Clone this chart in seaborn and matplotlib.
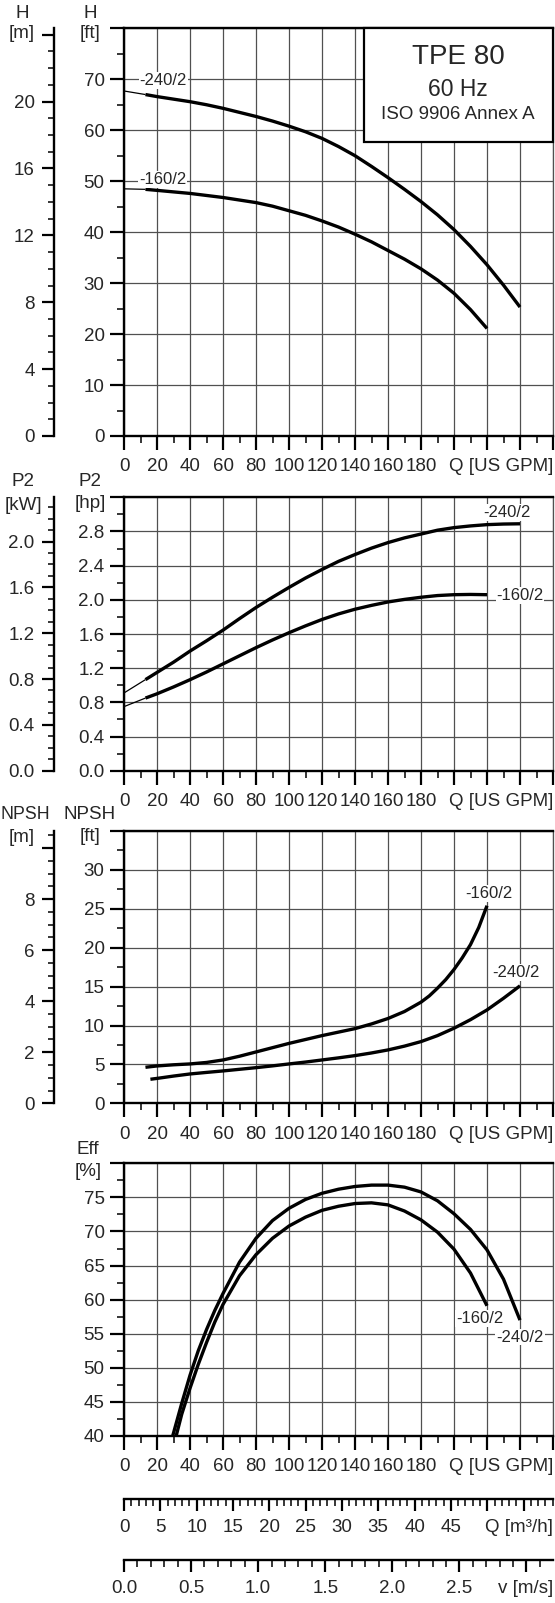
import numpy as np
import matplotlib
matplotlib.use('Agg')
import matplotlib.pyplot as plt
import seaborn as sns
from matplotlib.ticker import MultipleLocator, FixedLocator, FixedFormatter
from matplotlib.patches import Rectangle

# ---------------- data ----------------
# Head H [ft] vs Q [US GPM]; first segment (0 -> first point) drawn thin
q_h_240 = [0, 13, 20, 30, 40, 50, 60, 70, 80, 90, 100, 110, 120, 130, 140, 150, 160,
           170, 180, 190, 200, 210, 220, 230, 240]
h_240 = [67.7, 67.0, 66.6, 66.1, 65.6, 65.0, 64.3, 63.5, 62.7, 61.8, 60.8, 59.7, 58.4,
         56.8, 55.0, 52.9, 50.7, 48.4, 46.0, 43.4, 40.5, 37.2, 33.6, 29.6, 25.3]
q_h_160 = [0, 13, 20, 30, 40, 50, 60, 70, 80, 90, 100, 110, 120, 130, 140, 150, 160,
           170, 180, 190, 200, 210, 220]
h_160 = [48.5, 48.4, 48.2, 47.9, 47.6, 47.2, 46.8, 46.3, 45.8, 45.1, 44.2, 43.3, 42.2,
         41.0, 39.6, 38.1, 36.4, 34.7, 32.8, 30.6, 28.0, 24.8, 21.1]

# Power P2 [hp]
q_p_240 = [0, 13, 20, 30, 40, 50, 60, 70, 80, 90, 100, 110, 120, 130, 140, 150, 160,
           170, 180, 190, 200, 210, 220, 230, 240]
p_240 = [0.91, 1.066, 1.15, 1.27, 1.40, 1.52, 1.645, 1.78, 1.91, 2.03, 2.145, 2.255,
         2.355, 2.45, 2.53, 2.605, 2.67, 2.725, 2.77, 2.815, 2.845, 2.865, 2.88, 2.887, 2.89]
q_p_160 = [0, 13, 20, 30, 40, 50, 60, 70, 80, 90, 100, 110, 120, 130, 140, 150, 160,
           170, 180, 190, 200, 210, 220]
p_160 = [0.75, 0.85, 0.90, 0.98, 1.065, 1.155, 1.25, 1.345, 1.44, 1.53, 1.615, 1.695,
         1.77, 1.835, 1.89, 1.935, 1.975, 2.005, 2.03, 2.05, 2.06, 2.063, 2.06]

# NPSH [ft]
q_n_160 = [13, 20, 30, 40, 50, 60, 70, 80, 90, 100, 110, 120, 130, 140, 150, 160, 170,
           180, 185, 190, 195, 200, 205, 210, 215, 220]
n_160 = [4.63, 4.8, 4.95, 5.06, 5.25, 5.57, 6.05, 6.6, 7.15, 7.7, 8.2, 8.7, 9.15, 9.6,
         10.2, 10.9, 11.8, 13.0, 13.8, 14.8, 15.9, 17.2, 18.7, 20.4, 22.6, 25.4]
q_n_240 = [16, 20, 30, 40, 50, 60, 70, 80, 90, 100, 110, 120, 130, 140, 150, 160, 170,
           180, 190, 200, 210, 220, 230, 240]
n_240 = [3.09, 3.2, 3.5, 3.77, 3.97, 4.16, 4.37, 4.58, 4.81, 5.06, 5.3, 5.57, 5.84, 6.13,
         6.47, 6.86, 7.35, 7.93, 8.7, 9.65, 10.75, 12.0, 13.5, 15.1]

# Efficiency [%]
q_e_240 = [29.5, 35, 40, 45, 50, 55, 60, 70, 80, 90, 100, 110, 120, 130, 140, 150, 160,
           170, 180, 190, 200, 210, 220, 230, 240]
e_240 = [40, 44.8, 48.9, 52.5, 55.6, 58.4, 60.9, 65.5, 69.0, 71.6, 73.4, 74.7, 75.6, 76.2,
         76.6, 76.8, 76.8, 76.5, 75.8, 74.5, 72.6, 70.3, 67.3, 63.0, 57.0]
q_e_160 = [31.6, 35, 40, 45, 50, 55, 60, 70, 80, 90, 100, 110, 120, 130, 140, 150, 160,
           170, 180, 190, 200, 210, 220]
e_160 = [40, 43.2, 47.0, 50.5, 53.7, 56.7, 59.3, 63.5, 66.6, 69.0, 70.8, 72.1, 73.1, 73.7,
         74.1, 74.2, 73.9, 73.0, 71.7, 69.9, 67.4, 63.9, 59.1]

curve_names = ['-240/2', '-160/2']
title_lines = ['TPE 80', '60 Hz', 'ISO 9906 Annex A']

GPM_PER_M3H = 4.40287
GPM_PER_MS = 81.3
FT_TO_M = 0.3048
HP_TO_KW = 0.7457

# ---------------- style ----------------
sns.set_style('ticks')
plt.rcParams['font.family'] = ['Liberation Sans', 'DejaVu Sans']
plt.rcParams['axes.linewidth'] = 1.6
plt.rcParams['lines.solid_capstyle'] = 'butt'
plt.rcParams['lines.solid_joinstyle'] = 'round'

W, H = 555, 1603
fig = plt.figure(figsize=(W / 100, H / 100), dpi=100)

LEFT, RIGHT = 124, 553
FS = 13.5
GRID_C = '#505050'
LW_CURVE = 2.4


def add_axes_px(top, bottom):
    return fig.add_axes([LEFT / W, 1 - bottom / H, (RIGHT - LEFT) / W, (bottom - top) / H])


def ftext(x, y, s, size=FS):
    fig.text(x / W, 1 - y / H, s, ha='center', va='center', fontsize=size)


def style_main(ax, ymin, ymax, major, minor, fmt):
    ax.set_xlim(0, 260)
    ax.set_ylim(ymin, ymax)
    xt = list(range(0, 261, 20))
    xl = [str(v) if v <= 180 else '' for v in xt]
    xl[-1] = 'Q [US GPM]'
    ax.xaxis.set_major_locator(FixedLocator(xt))
    ax.xaxis.set_major_formatter(FixedFormatter(xl))
    ax.xaxis.set_minor_locator(MultipleLocator(10))
    yt = list(np.round(np.arange(ymin, ymax + major / 2, major), 3))
    yl = [fmt.format(v) for v in yt]
    yl[-1] = ''
    ax.yaxis.set_major_locator(FixedLocator(yt))
    ax.yaxis.set_major_formatter(FixedFormatter(yl))
    ax.yaxis.set_minor_locator(MultipleLocator(minor))
    ax.set_axisbelow(True)
    ax.grid(True, which='major', color=GRID_C, lw=0.9)
    ax.tick_params(which='major', direction='out', length=10, width=1.6,
                   labelsize=FS, color='black')
    ax.tick_params(axis='x', which='major', pad=6)
    ax.tick_params(axis='y', which='major', pad=4)
    ax.tick_params(which='minor', direction='out', length=5, width=1.1, color='black')
    ax.tick_params(top=False, right=False, which='both')
    for s in ['left', 'bottom', 'top']:
        ax.spines[s].set_linewidth(1.7)
        ax.spines[s].set_color('black')
    ax.spines['right'].set_linewidth(0.9)
    ax.spines['right'].set_color(GRID_C)
    ax.spines['right'].set_visible(True)
    ax.spines['top'].set_visible(True)
    labs = ax.get_xticklabels()
    labs[-1].set_horizontalalignment('right')


def sec_y(ax, fwd, inv, ticks, labels, minor):
    sec = ax.secondary_yaxis(-0.163, functions=(fwd, inv))
    sec.yaxis.set_major_locator(FixedLocator(ticks))
    sec.yaxis.set_major_formatter(FixedFormatter(labels))
    sec.yaxis.set_minor_locator(MultipleLocator(minor))
    sec.tick_params(which='major', direction='out', length=9, width=1.6,
                    labelsize=FS, pad=5, color='black')
    sec.tick_params(which='minor', direction='out', length=4, width=1.1, color='black')
    for s in sec.spines.values():
        s.set_linewidth(1.7)
        s.set_color('black')
    return sec


def curve(ax, q, v, thin_first=False):
    if thin_first:
        sns.lineplot(x=q[:2], y=v[:2], ax=ax, color='black', lw=0.9, sort=False, estimator=None)
        sns.lineplot(x=q[1:], y=v[1:], ax=ax, color='black', lw=LW_CURVE, sort=False, estimator=None)
    else:
        sns.lineplot(x=q, y=v, ax=ax, color='black', lw=LW_CURVE, sort=False, estimator=None)


def clabel(ax, x, y, s, ha='center'):
    ax.text(x, y, s, ha=ha, va='center', fontsize=12, zorder=5,
            bbox=dict(facecolor='white', edgecolor='none', pad=0.6))


# ---------------- panel 1: head ----------------
ax1 = add_axes_px(28.3, 436)
curve(ax1, q_h_240, h_240, thin_first=True)
curve(ax1, q_h_160, h_160, thin_first=True)
style_main(ax1, 0, 80, 10, 5, '{:.0f}')
sec_y(ax1, lambda f: f * FT_TO_M, lambda m: m / FT_TO_M,
      list(range(0, 25, 4)), ['0', '4', '8', '12', '16', '20', ''], 1)
clabel(ax1, 23.8, 69.8, curve_names[0])
clabel(ax1, 23.3, 50.3, curve_names[1])
ax1.add_patch(Rectangle((145.6, 57.7), 114.4, 22.3, facecolor='white', edgecolor='black',
                        lw=1.6, zorder=4, clip_on=False))
ax1.text(202.6, 74.3, title_lines[0], ha='center', va='center', fontsize=20, zorder=6)
ax1.text(202.6, 68.0, title_lines[1], ha='center', va='center', fontsize=16.5, zorder=6)
ax1.text(202.6, 63.1, title_lines[2], ha='center', va='center', fontsize=13.5, zorder=6)
ftext(22, 13.3, 'H'); ftext(22, 33.7, '[m]')
ftext(90, 13.3, 'H'); ftext(90, 33.0, '[ft]')

# ---------------- panel 2: power ----------------
ax2 = add_axes_px(497.3, 770.7)
curve(ax2, q_p_240, p_240, thin_first=True)
curve(ax2, q_p_160, p_160, thin_first=True)
style_main(ax2, 0, 3.2, 0.4, 0.2, '{:.1f}')
sec_y(ax2, lambda p: p * HP_TO_KW, lambda k: k / HP_TO_KW,
      [0, 0.4, 0.8, 1.2, 1.6, 2.0], ['0.0', '0.4', '0.8', '1.2', '1.6', '2.0'], 0.1)
clabel(ax2, 232, 3.02, curve_names[0])
clabel(ax2, 240, 2.05, curve_names[1])
ftext(23, 481.7, 'P2'); ftext(23, 505, '[kW]')
ftext(90, 481.7, 'P2'); ftext(90, 503.3, '[hp]')

# ---------------- panel 3: NPSH ----------------
ax3 = add_axes_px(831, 1103.3)
curve(ax3, q_n_160, n_160)
curve(ax3, q_n_240, n_240)
style_main(ax3, 0, 35, 5, 2.5, '{:.0f}')
sec_y(ax3, lambda f: f * FT_TO_M, lambda m: m / FT_TO_M,
      [0, 2, 4, 6, 8, 10], ['0', '2', '4', '6', '8', ''], 0.5)
clabel(ax3, 220.9, 27.0, curve_names[1])
clabel(ax3, 237.8, 16.8, curve_names[0])
ftext(25.5, 815, 'NPSH', size=12.8); ftext(22, 837.3, '[m]')
ftext(90, 815, 'NPSH'); ftext(90, 836.7, '[ft]')

# ---------------- panel 4: efficiency ----------------
ax4 = add_axes_px(1163.3, 1436)
curve(ax4, q_e_240, e_240)
curve(ax4, q_e_160, e_160)
style_main(ax4, 40, 80, 5, 2.5, '{:.0f}')
clabel(ax4, 215.6, 57.2, curve_names[1])
clabel(ax4, 240, 54.5, curve_names[0])
ftext(88, 1150, 'Eff'); ftext(88, 1171.7, '[%]')

axh = 1436 - 1163.3


def sec_x(ax, loc_px, fwd, inv, ticks, labels, minor, edge_label):
    sec = ax.secondary_xaxis(-(loc_px - 1436) / axh, functions=(fwd, inv))
    edge = fwd(260)
    sec.xaxis.set_major_locator(FixedLocator(list(ticks) + [edge]))
    sec.xaxis.set_major_formatter(FixedFormatter(list(labels) + [edge_label]))
    sec.xaxis.set_minor_locator(MultipleLocator(minor))
    sec.tick_params(which='major', direction='out', length=8.5, width=1.6,
                    labelsize=FS, pad=6, color='black')
    sec.tick_params(which='minor', direction='out', length=5, width=1.1, color='black')
    for s in sec.spines.values():
        s.set_linewidth(1.7)
        s.set_color('black')
    fig.canvas.draw()
    ticks_obj = sec.xaxis.get_major_ticks()
    ticks_obj[-1].tick1line.set_visible(False)
    ticks_obj[-1].label1.set_horizontalalignment('right')
    return sec


m3_ticks = list(range(0, 56, 5))
m3_labels = [str(v) if v <= 45 else '' for v in m3_ticks]
sec_x(ax4, 1499, lambda g: g / GPM_PER_M3H, lambda m: m * GPM_PER_M3H,
      m3_ticks, m3_labels, 1, 'Q [m³/h]')

v_ticks = [0.0, 0.5, 1.0, 1.5, 2.0, 2.5, 3.0]
v_labels = ['0.0', '0.5', '1.0', '1.5', '2.0', '2.5', '']
sec_x(ax4, 1560, lambda g: g / GPM_PER_MS, lambda v: v * GPM_PER_MS,
      v_ticks, v_labels, 0.1, 'v [m/s]')

fig.savefig('out.png', dpi=100)
